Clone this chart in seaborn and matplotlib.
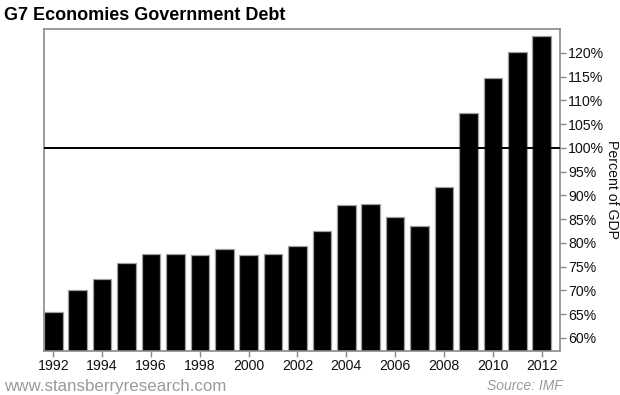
import matplotlib
matplotlib.use("Agg")
import matplotlib.pyplot as plt
import seaborn as sns
import pandas as pd

years = [str(y) for y in range(1992, 2013)]
debt = [65.5, 70.2, 72.4, 75.8, 77.7, 77.7, 77.4, 78.7, 77.4, 77.7, 79.4,
        82.5, 88.0, 88.2, 85.4, 83.5, 91.8, 107.4, 114.8, 120.3, 123.6]
ytick_vals = [60, 65, 70, 75, 80, 85, 90, 95, 100, 105, 110, 115, 120]
xtick_labels = [str(y) for y in range(1992, 2013, 2)]

sns.set_style("white")
plt.rcParams['font.family'] = ['Liberation Sans', 'DejaVu Sans']

df = pd.DataFrame({"year": years, "debt": debt})

fig = plt.figure(figsize=(6.2, 3.95), dpi=100)
ax = fig.add_axes([44/620, 44/395, 516/620, 322/395])

sns.barplot(data=df, x="year", y="debt", color="black", saturation=1,
            edgecolor="#a0a0a0", linewidth=0.9, width=0.76, ax=ax)
for p in ax.patches:
    p.set_facecolor("black")

ax.set_ylim(57.26, 125.05)
ax.set_xlim(-0.38, len(years) - 1 + 0.75)
ax.axhline(100, color="black", lw=1.4, zorder=5)

ax.yaxis.tick_right()
ax.yaxis.set_label_position("right")
ax.set_yticks(ytick_vals)
ax.set_yticklabels([f"{v}%" for v in ytick_vals], fontsize=10.2)
xt = [years.index(y) for y in xtick_labels]
ax.set_xticks(xt)
ax.set_xticklabels(xtick_labels, fontsize=10.2)
ax.tick_params(axis="both", direction="out", length=4, width=1, color="#8a8a8a",
               pad=2, labelcolor="#111111")
ax.tick_params(axis="y", left=False, right=True)
ax.tick_params(axis="x", bottom=True)
ax.set_xlabel("")
ax.set_ylabel("Percent of GDP", rotation=270, fontsize=10.2, color="#111111",
              va="center", ha="center")
ax.yaxis.set_label_coords(1.1, 0.5)
for s in ax.spines.values():
    s.set_color("#8a8a8a")
    s.set_linewidth(1.2)

fig.text(4/620, 1 - 15/395, "G7 Economies Government Debt", fontsize=13,
         fontweight="bold", family=["Liberation Sans"],
         va="center", ha="left", color="black")
fig.text(4/620, 1 - 386/395, "www.stansberryresearch.com", fontsize=12.2,
         color="#9a9a9a", va="center", ha="left")
fig.text(563/620, 1 - 386/395, "Source: IMF", fontsize=10, style="italic",
         color="#9a9a9a", va="center", ha="right")

fig.savefig("out.png", dpi=100)
